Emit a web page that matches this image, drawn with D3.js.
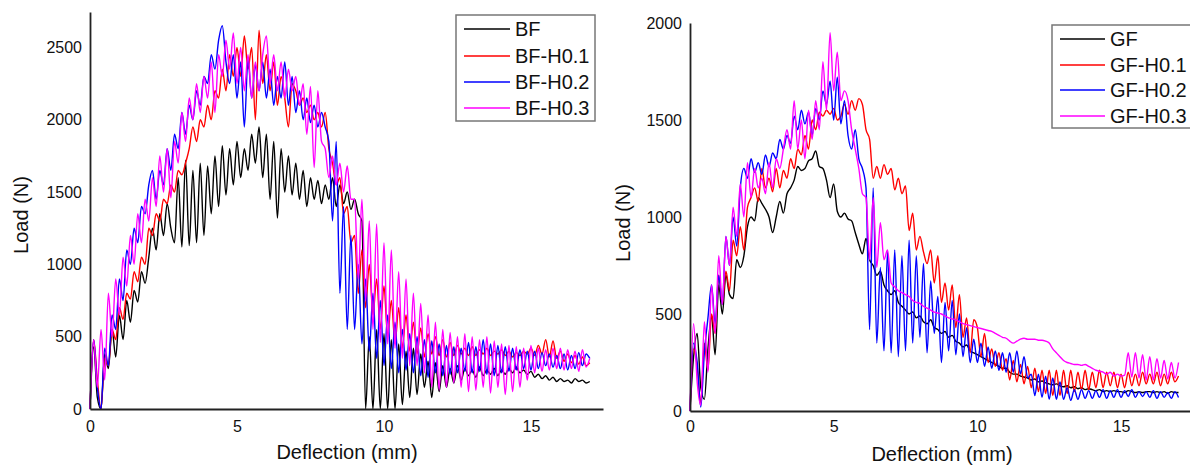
<!DOCTYPE html>
<html><head><meta charset="utf-8">
<script src="https://cdn.jsdelivr.net/npm/d3@7"></script>
<style>
body{margin:0;background:#fff}
svg{display:block;background:#fff}
text{font-family:"Liberation Sans",Arial,Helvetica,sans-serif;fill:#111}
</style>
</head><body>
<svg id="chart" width="1190" height="471"></svg>
<script>
// sampling step along the deflection axis (mm)
const STEP = 0.125;
const xTicks = [0, 5, 10, 15];
const leftYTicks = [0, 500, 1000, 1500, 2000, 2500];
const rightYTicks = [0, 500, 1000, 1500, 2000];
const leftNames = ["BF", "BF-H0.1", "BF-H0.2", "BF-H0.3"];
const rightNames = ["GF", "GF-H0.1", "GF-H0.2", "GF-H0.3"];
const seriesColors = ["#000000", "#ff0000", "#0000ff", "#ff00ff"];

// Left panel loads (N), one value per STEP mm, 0..17 mm
const BF = [
 0,430,80,0,380,280,550,360,
 650,480,750,600,820,740,950,870,
 1050,1250,1100,1350,1200,1420,1250,1150,
 1600,1120,1720,1130,1650,1150,1700,1200,
 1680,1350,1750,1400,1820,1480,1800,1550,
 1850,1600,1800,1650,1900,1700,1950,1600,
 1900,1450,1850,1320,1800,1500,1750,1480,
 1700,1450,1650,1400,1600,1450,1580,1420,
 1550,1450,1600,1400,1550,1420,1500,1380,
 1450,1350,1300,0,500,0,550,0,
 520,0,480,0,450,30,400,80,
 420,100,380,150,330,80,320,120,
 300,150,280,180,300,200,280,230,
 270,220,290,230,270,240,280,230,
 270,240,280,250,290,250,270,240,
 260,220,240,210,230,200,220,190,
 210,190,200,180,210,190,200,180,190];
const BF_H01 = [
 0,480,200,0,350,300,550,480,
 700,620,800,760,950,880,1050,1000,
 1250,1200,1350,1300,1450,1420,1550,1500,
 1650,1620,1700,1800,1950,1850,2000,1950,
 2100,2000,2200,2150,2350,2200,2450,2300,
 2500,2300,2580,2350,2500,2000,2620,2250,
 2450,2200,2400,2100,2300,2150,1950,2250,
 2200,2100,2150,2050,2100,2000,2050,1950,
 2050,1800,1700,1550,1600,1350,1400,1150,
 1200,800,1100,700,1000,650,900,550,
 850,500,750,450,700,420,650,400,
 600,380,560,360,520,380,500,370,
 480,360,460,370,440,380,420,370,
 430,370,410,380,420,370,400,380,
 410,370,400,360,390,370,400,380,
 420,370,440,380,480,360,470,350,
 400,330,380,320,370,310,360,300,320];
const BF_H02 = [
 0,480,150,0,420,300,650,550,
 900,750,1100,1000,1250,1150,1400,1350,
 1550,1650,1450,1650,1550,1800,1650,1900,
 1800,2050,1900,2100,2000,2200,2100,2300,
 2250,2450,2350,2550,2650,2400,2250,2450,
 2150,2400,1950,2420,2150,2380,2200,2400,
 2150,2350,2100,2300,2150,2400,2100,2300,
 2050,2200,2000,2150,1980,2100,1950,2050,
 1950,1850,1300,1850,800,1400,550,1200,
 550,1000,450,900,400,800,350,750,
 300,650,280,600,250,550,270,520,
 250,500,230,480,220,470,250,450,
 230,440,240,430,250,420,260,460,
 250,430,260,480,240,450,230,440,
 250,430,260,420,270,410,280,400,
 270,400,280,390,300,380,290,370,
 280,380,270,370,280,390,300,380,350];
const BF_H03 = [
 0,480,150,550,200,800,500,900,
 650,1050,850,1200,1000,1350,1150,1450,
 1300,1600,1400,1750,1500,1800,1460,1850,
 1700,2050,1850,2150,2000,2250,2050,2300,
 2150,2400,2050,2450,2300,2550,2350,2600,
 2250,2500,2200,2450,2150,2400,2200,2450,
 2580,2250,2450,2200,2400,2150,2350,2200,
 2300,2100,2250,1900,2230,1670,2200,1850,
 1800,1600,1750,1550,1700,1500,1680,1450,
 1450,900,1450,750,1300,550,1280,460,
 1150,450,1100,420,950,350,900,300,
 800,300,730,250,650,150,600,130,
 550,150,530,180,500,150,520,120,
 500,130,480,150,500,110,470,150,
 450,100,440,120,430,150,420,200,
 440,250,420,260,410,270,420,280,
 420,270,410,280,400,260,410,290,350];

// Right panel loads (N)
const GF = [
 0,280,400,120,60,320,490,290,
 650,500,700,600,580,780,740,800,
 950,1000,980,1100,1070,1040,1000,920,
 1000,1080,1020,1120,1150,1190,1260,1240,
 1250,1290,1300,1340,1260,1250,1190,1100,
 1170,1030,1000,1020,990,980,920,860,
 810,890,780,750,700,720,650,620,
 600,620,560,540,520,500,510,480,
 490,460,450,470,430,420,400,410,
 380,390,360,350,330,340,310,300,
 290,280,270,260,250,240,230,220,
 220,200,190,190,180,175,170,160,
 165,150,155,145,140,135,140,130,
 125,130,120,125,115,120,110,115,
 110,105,110,100,105,100,105,100,
 100,95,105,100,95,100,95,100,
 100,95,100,95,100,90,100,95,95];
const GF_H01 = [
 0,320,230,40,350,210,500,400,
 700,550,720,620,880,800,950,830,
 1050,1100,1150,1080,1250,1150,1200,1130,
 1250,1150,1240,1200,1300,1250,1350,1320,
 1420,1350,1500,1450,1540,1520,1550,1530,
 1560,1500,1520,1580,1530,1600,1550,1610,
 1580,1450,1400,1200,1260,1200,1270,1220,
 1250,1140,1200,1120,1160,930,1020,830,
 900,820,760,830,660,800,560,660,
 520,650,430,600,380,480,300,470,
 430,280,400,250,320,230,300,210,
 270,160,260,150,240,140,230,120,
 220,100,210,90,210,80,210,80,
 210,90,210,100,200,110,210,110,
 200,120,210,120,200,130,200,120,
 190,120,200,130,190,130,200,140,
 190,140,200,130,190,140,200,150,180];
const GF_H02 = [
 0,350,250,20,300,480,650,450,
 700,550,900,750,1000,850,1150,1250,
 1200,1300,1230,1280,1220,1320,1260,1330,
 1300,1400,1350,1420,1380,1520,1450,1550,
 1480,1540,1420,1560,1500,1650,1580,1700,
 1500,1720,1480,1600,1420,1350,1450,1300,
 1250,1150,420,1150,350,740,310,820,
 300,830,280,800,310,880,350,800,
 380,760,300,670,400,590,250,560,
 310,570,290,500,280,430,250,370,
 250,350,230,330,220,310,210,300,
 200,300,200,310,190,280,170,190,
 80,190,70,180,60,170,60,150,
 60,120,55,110,60,110,65,105,
 65,105,70,110,65,105,70,110,
 70,105,75,110,70,100,75,100,
 70,105,65,100,70,95,65,100,70];
const GF_H03 = [
 0,450,150,30,460,200,650,400,
 800,550,900,750,1050,900,1170,1000,
 1280,1100,1250,1150,1200,1120,1280,1150,
 1300,1250,1350,1450,1350,1600,1350,1500,
 1300,1550,1400,1600,1450,1800,1550,1950,
 1650,1850,1600,1650,1600,1450,1350,1250,
 1120,1100,780,1100,740,970,780,830,
 660,640,620,610,600,590,570,560,
 555,540,530,520,510,505,500,490,
 480,475,470,460,450,445,440,435,
 430,425,420,415,410,400,390,380,
 375,360,350,360,370,375,370,370,
 370,365,365,360,350,320,300,280,
 260,250,245,240,240,235,240,230,
 220,210,205,200,190,200,180,190,
 180,185,300,175,300,170,290,160,
 280,160,270,170,260,165,250,170,250];

const leftSeries = [BF, BF_H01, BF_H02, BF_H03];
const rightSeries = [GF, GF_H01, GF_H02, GF_H03];

const svg = d3.select("#chart");

function panel(cfg) {
  const g = svg.append("g");
  const x = d3.scaleLinear().domain(cfg.xDomain).range(cfg.xRange);
  const y = d3.scaleLinear().domain(cfg.yDomain).range(cfg.yRange);

  const line = d3.line()
    .x((d, i) => x(i * STEP))
    .y(d => y(d))
    .curve(d3.curveMonotoneX);

  cfg.series.forEach((s, k) => {
    g.append("path")
      .attr("d", line(s))
      .attr("fill", "none")
      .attr("stroke", seriesColors[k])
      .attr("stroke-width", 1.4)
      .attr("stroke-linejoin", "round");
  });

  const xa = g.append("g")
    .attr("transform", `translate(0,${cfg.yRange[0]})`)
    .call(d3.axisBottom(x).tickValues(xTicks).tickFormat(d3.format("d"))
      .tickSize(0).tickSizeOuter(0).tickPadding(cfg.xPad));
  const ya = g.append("g")
    .attr("transform", `translate(${cfg.xRange[0]},0)`)
    .call(d3.axisLeft(y).tickValues(cfg.yTicks).tickFormat(d3.format("d"))
      .tickSize(0).tickSizeOuter(0).tickPadding(8));
  [xa, ya].forEach(a => {
    a.select(".domain").attr("stroke", "#222").attr("stroke-width", 1.8);
    a.selectAll("text").style("font-size", "16px")
      .style("font-family", '"Liberation Sans", Arial, sans-serif').attr("fill", "#111");
  });

  g.append("text")
    .attr("x", cfg.xTitle[0]).attr("y", cfg.xTitle[1])
    .attr("text-anchor", "middle").attr("dominant-baseline", "central")
    .style("font-size", "20px").text("Deflection (mm)");
  g.append("text")
    .attr("transform", `translate(${cfg.yTitle[0]},${cfg.yTitle[1]}) rotate(-90)`)
    .attr("text-anchor", "middle").attr("dominant-baseline", "central")
    .style("font-size", "20px").text("Load (N)");

  // legend
  const L = cfg.legend;
  const lg = g.append("g");
  lg.append("rect")
    .attr("x", L.x).attr("y", L.y).attr("width", L.w).attr("height", L.h)
    .attr("fill", "#fff").attr("stroke", "#777").attr("stroke-width", 1.5);
  cfg.names.forEach((n, k) => {
    const yy = L.rows[k];
    lg.append("line")
      .attr("x1", L.lx1).attr("x2", L.lx2).attr("y1", yy).attr("y2", yy)
      .attr("stroke", seriesColors[k]).attr("stroke-width", 1.4);
    lg.append("text")
      .attr("x", L.tx).attr("y", yy)
      .attr("dominant-baseline", "central")
      .style("font-size", "20px").text(n);
  });
}

panel({
  series: leftSeries, names: leftNames, yTicks: leftYTicks,
  xDomain: [0, 17.45], xRange: [90, 603],
  yDomain: [0, 2745], yRange: [409, 12],
  xPad: 12,
  xTitle: [347, 452], yTitle: [21, 215],
  legend: {x: 456, y: 15, w: 139, h: 106, rows: [29, 56, 82, 108], lx1: 464, lx2: 510, tx: 515}
});
panel({
  series: rightSeries, names: rightNames, yTicks: rightYTicks,
  xDomain: [0, 17.4], xRange: [690, 1190],
  yDomain: [0, 2000], yRange: [411, 23],
  xPad: 10,
  xTitle: [942, 454], yTitle: [623, 223],
  legend: {x: 1052, y: 25, w: 140, h: 103, rows: [39, 65, 90, 116], lx1: 1060, lx2: 1105, tx: 1110}
});
</script>
</body></html>
